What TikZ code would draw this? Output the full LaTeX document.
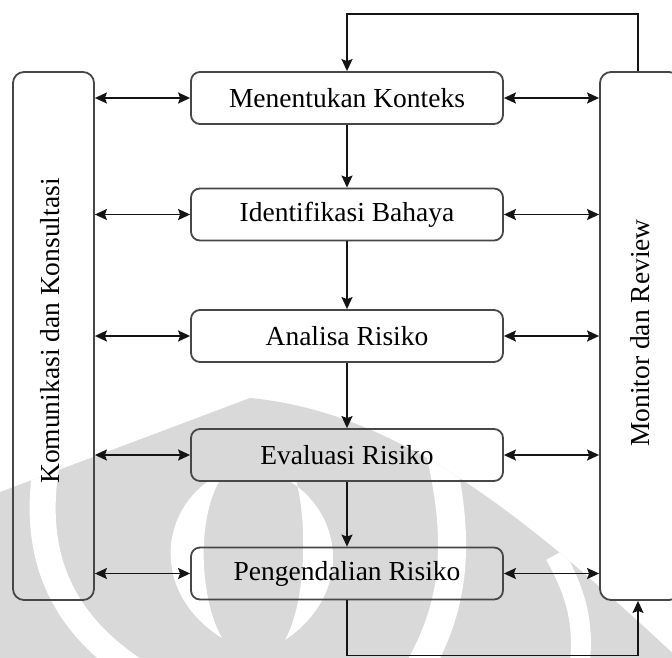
\documentclass[tikz,border=0pt]{standalone}
\usepackage{fontspec}
\setmainfont{Liberation Serif}
\usetikzlibrary{arrows.meta}
\begin{document}
\begin{tikzpicture}[x=1pt,y=-1pt,
  box/.style={draw=black!72, line width=1.8pt, rounded corners=9pt, inner sep=0pt,
    minimum width=312pt, minimum height=52pt, font=\fontsize{27.5}{30}\selectfont},
  side/.style={draw=black!72, line width=1.8pt, rounded corners=11pt, inner sep=0pt},
  lbl/.style={font=\fontsize{27.5}{30}\selectfont, rotate=90, inner sep=0pt},
  conn/.style={line width=1.6pt, draw=black!92},
  tip/.style={-{Stealth[length=12pt,width=11pt,inset=2pt]}},
  dtip/.style={{Stealth[length=12pt,width=11pt,inset=2pt]}-{Stealth[length=12pt,width=11pt,inset=2pt]}},
  wmgray/.style={fill=black!15},
]
\useasboundingbox (0,0) rectangle (672,657);
\clip (0,0) rectangle (672,657);

% watermark
\begin{scope}
  \clip (0,492) -- (250,398) .. controls (400,412) and (530,520) .. (680,660) -- (0,660) -- cycle;
  \fill[wmgray] (0,380) rectangle (700,670);
  \draw[white, line width=26pt] (48,455) .. controls (32,540) and (48,620) .. (150,680);
  \fill[white] (210,480) .. controls (158,515) and (153,595) .. (222,638)
               .. controls (200,600) and (196,520) .. (220,480) -- cycle;
  \fill[white] (288,480) .. controls (345,515) and (352,595) .. (285,640)
               .. controls (307,600) and (307,520) .. (296,480) -- cycle;
  \draw[white, line width=28pt] (432,420) .. controls (462,530) and (460,600) .. (415,675);
  \draw[white, line width=20pt] (555,555) .. controls (580,600) and (585,630) .. (578,680);
\end{scope}

% side boxes
\node[side, minimum width=81pt, minimum height=528pt] (kom) at (53.5,336) {};
\node[lbl] (komt) at (50,331) {Komunikasi dan Konsultasi};
\node[side, fill=white, minimum width=80pt, minimum height=528pt] (mon) at (640,336) {};
\node[lbl] (mont) at (640,333) {Monitor dan Review};

% process boxes
\node[box] (m1) at (347,98) {Menentukan Konteks};
\node[box] (m2) at (347,214.5) {Identifikasi Bahaya};
\node[box] (m3) at (347,336) {Analisa Risiko};
\node[box] (m4) at (347,455) {Evaluasi Risiko};
\node[box] (m5) at (347,573.5) {Pengendalian Risiko};

% vertical flow
\draw[conn,tip] (m1) -- (m2);
\draw[conn,tip] (m2) -- (m3);
\draw[conn,tip] (m3) -- (m4);
\draw[conn,tip] (m4) -- (m5);

% horizontal double arrows
\foreach \n in {m1,m2,m3,m4,m5}{
  \draw[conn,dtip] (kom.east |- \n.west) -- (\n.west);
  \draw[conn,dtip] (\n.east) -- (mon.west |- \n.east);
}

% feedback loops
\draw[conn,tip] ([xshift=-2pt]mon.north) -- ++(0,-57) -| (m1.north);
\draw[conn,tip] (m5.south) -- ++(0,55) -| ([xshift=-2pt]mon.south);
\end{tikzpicture}
\end{document}
